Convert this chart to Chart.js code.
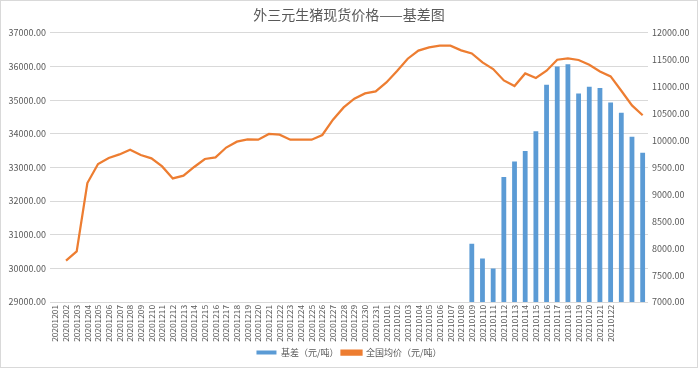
<!DOCTYPE html>
<html>
<head>
<meta charset="utf-8">
<script src="https://cdn.jsdelivr.net/npm/chart.js@4"></script>
<style>
    body { margin: 0; background: #fff; }
    .frame { width: 698px; height: 368px; box-sizing: border-box; border: 1px solid #d9d9d9; background: #fff; }
    canvas { display: block; }
</style>
</head>
<body>
<div class="frame"><canvas id="basisChart" width="696" height="366"></canvas></div>
<script>
const FONT = "'Noto Sans CJK SC', 'Noto Sans', sans-serif";

const dates = [
    '20201201', '20201202', '20201203', '20201204', '20201205', '20201206', '20201207', '20201208',
    '20201209', '20201210', '20201211', '20201212', '20201213', '20201214', '20201215', '20201216',
    '20201217', '20201218', '20201219', '20201220', '20201221', '20201222', '20201223', '20201224',
    '20201225', '20201226', '20201227', '20201228', '20201229', '20201230', '20201231',
    '20210101', '20210102', '20210103', '20210104', '20210105', '20210106', '20210107', '20210108',
    '20210109', '20210110', '20210111', '20210112', '20210113', '20210114', '20210115', '20210116',
    '20210117', '20210118', '20210119', '20210120', '20210121', '20210122', '', '', ''
];

// 全国均价（元/吨）, left axis
const avgPrice = [
    null, 30227, 30504, 32536, 33100, 33280, 33386, 33526, 33368, 33268,
    33030, 32673, 32753, 33012, 33250, 33297, 33590, 33765, 33832, 33823,
    33993, 33972, 33823, 33823, 33823, 33963, 34417, 34783, 35042, 35199,
    35259, 35526, 35865, 36230, 36470, 36566, 36617, 36617, 36477, 36388,
    36120, 35924, 35585, 35419, 35793, 35657, 35874, 36200, 36240, 36192,
    36052, 35853, 35704, 35279, 34842, 34550
];

// 基差（元/吨）, right axis
const basis = [
    null, null, null, null, null, null, null, null, null, null,
    null, null, null, null, null, null, null, null, null, null,
    null, null, null, null, null, null, null, null, null, null,
    null, null, null, null, null, null, null, null, null, 8084,
    7810, 7620, 9320, 9610, 9805, 10170, 11035, 11374, 11416, 10872,
    10996, 10977, 10704, 10513, 10067, 9770
];

const leftTicks = { min: 29000, max: 37000, step: 1000 };
const rightTicks = { min: 7000, max: 12000, step: 500 };

const ctx = document.getElementById('basisChart').getContext('2d');

new Chart(ctx, {
    type: 'bar',
    data: {
        labels: dates,
        datasets: [
            {
                type: 'bar',
                label: '基差（元/吨）',
                data: basis,
                yAxisID: 'y1',
                backgroundColor: '#5B9BD5',
                barPercentage: 0.45,
                categoryPercentage: 1,
                order: 2
            },
            {
                type: 'line',
                label: '全国均价（元/吨）',
                data: avgPrice,
                yAxisID: 'y',
                borderColor: '#ED7D31',
                backgroundColor: '#ED7D31',
                borderWidth: 2.25,
                pointRadius: 0,
                tension: 0,
                order: 1
            }
        ]
    },
    options: {
        responsive: false,
        animation: false,
        layout: { padding: 0 },
        plugins: {
            title: {
                display: true,
                text: '外三元生猪现货价格——基差图',
                color: '#595959',
                font: { family: FONT, size: 14, weight: 'normal' },
                padding: { top: 5, bottom: 10 }
            },
            legend: {
                position: 'bottom',
                labels: {
                    color: '#595959',
                    font: { family: FONT, size: 9 },
                    boxWidth: 20,
                    boxHeight: 4,
                    padding: 3,
                    sort: (a, b) => a.datasetIndex - b.datasetIndex
                }
            },
            tooltip: { enabled: false }
        },
        scales: {
            x: {
                grid: { display: false, drawTicks: false },
                border: { display: false },
                afterFit: scale => { scale.height = 43; },
                ticks: {
                    autoSkip: false,
                    minRotation: 90,
                    maxRotation: 90,
                    padding: 3,
                    color: '#595959',
                    font: { family: FONT, size: 8.3 }
                }
            },
            y: {
                position: 'left',
                min: leftTicks.min,
                max: leftTicks.max,
                grid: { color: '#D9D9D9', drawTicks: false },
                border: { display: false },
                afterFit: scale => { scale.width = 49; },
                ticks: {
                    stepSize: leftTicks.step,
                    padding: 4,
                    color: '#595959',
                    font: { family: FONT, size: 9 },
                    callback: v => v.toFixed(2)
                }
            },
            y1: {
                position: 'right',
                min: rightTicks.min,
                max: rightTicks.max,
                grid: { display: false, drawTicks: false },
                border: { display: false },
                afterFit: scale => { scale.width = 49; },
                ticks: {
                    stepSize: rightTicks.step,
                    padding: 4,
                    color: '#595959',
                    font: { family: FONT, size: 9 },
                    callback: v => v.toFixed(2)
                }
            }
        }
    }
});
</script>
</body>
</html>
